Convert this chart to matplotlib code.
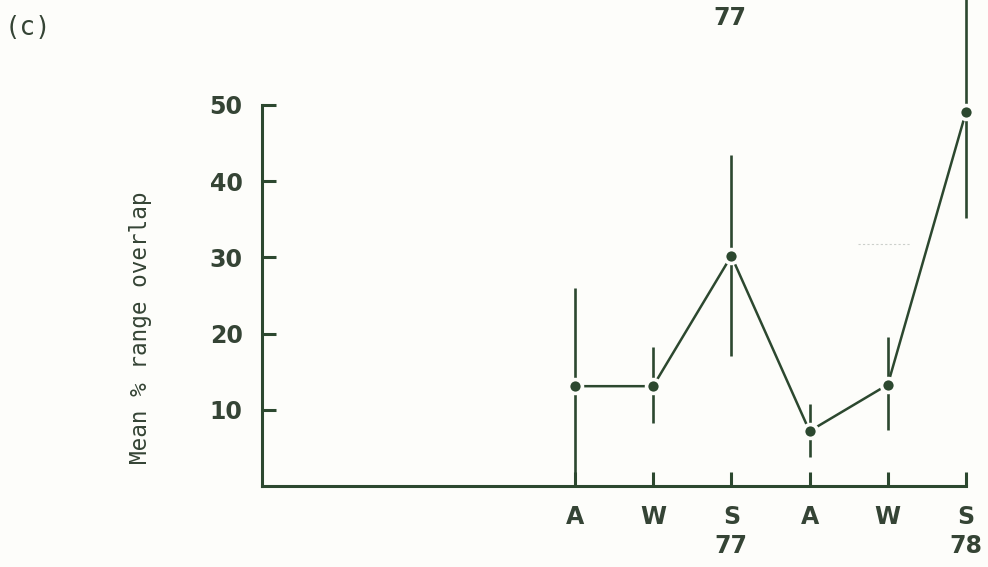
import matplotlib
matplotlib.use("Agg")
import matplotlib.pyplot as plt
from matplotlib.lines import Line2D

# Seasonal samples: Autumn, Winter, Summer across 1977-78
positions = [4, 5, 6, 7, 8, 9]
season_labels = ["A", "W", "S\n77", "A", "W", "S\n78"]
mean_overlap = [13.1, 13.1, 30.2, 7.2, 13.3, 49.1]
range_low = [0.0, 8.3, 17.0, 3.8, 7.3, 35.2]
range_high = [26.0, 18.2, 43.4, 10.8, 19.5, 64.0]
y_ticks = [10, 20, 30, 40, 50]

ink = "#2c482f"
text_ink = "#354435"
paper = "#fdfdfa"

fig = plt.figure(figsize=(9.88, 5.67), dpi=100, facecolor=paper)
W, H = 988, 567
ax = fig.add_axes([262 / W, 81 / H, 704 / W, 486 / H])
ax.set_facecolor("none")
ax.set_xlim(0, 9)
ax.set_ylim(0, 486 / 7.62)

# vertical range bars
for x, lo, hi in zip(positions, range_low, range_high):
    ax.plot([x, x], [lo, hi], color=ink, lw=1.9, solid_capstyle="butt",
            clip_on=False, zorder=2)

# connecting line and means, with a paper-coloured halo round each dot
ax.plot(positions, mean_overlap, color=ink, lw=1.8, zorder=2, clip_on=False)
ax.plot(positions, mean_overlap, "o", ms=10, mfc=ink, mec=paper, mew=2.6,
        zorder=3, clip_on=False)

# axes styling
for side in ("top", "right"):
    ax.spines[side].set_visible(False)
for side in ("left", "bottom"):
    ax.spines[side].set_color(ink)
    ax.spines[side].set_linewidth(2.2)
ax.spines["left"].set_bounds(0, 50)
ax.spines["bottom"].set_bounds(0, 9)

ax.set_yticks(y_ticks)
ax.set_yticklabels([str(v) for v in y_ticks])
ax.set_xticks(positions)
ax.set_xticklabels(season_labels, linespacing=1.25)
ax.tick_params(axis="both", direction="in", length=10, width=2.2, color=ink,
               labelcolor=text_ink)
ax.tick_params(axis="y", pad=14)
ax.tick_params(axis="x", pad=14)
for lab in ax.get_xticklabels() + ax.get_yticklabels():
    lab.set_fontfamily("DejaVu Sans")
    lab.set_fontweight("bold")
    lab.set_fontsize(17)

fig.text(141 / W, 1 - 328 / H, "Mean % range overlap", rotation=90,
         ha="center", va="center", family="DejaVu Sans Mono", fontsize=16.3,
         color=text_ink)
fig.text(5 / W, 1 - 28 / H, "(c)", ha="left", va="center",
         family="DejaVu Sans Mono", fontsize=18.5, color=text_ink)
fig.text(730 / W, 1 - 18 / H, "77", ha="center", va="center",
         family="DejaVu Sans", fontweight="bold", fontsize=17,
         color=text_ink)

# faint printing mark to the right of the plot
fig.add_artist(Line2D([858 / W, 910 / W], [1 - 244 / H, 1 - 244 / H],
                      color="#b8bdb8", lw=0.8, ls=(0, (2, 2)), alpha=0.7))

fig.savefig("out.png", dpi=100, facecolor=paper)
